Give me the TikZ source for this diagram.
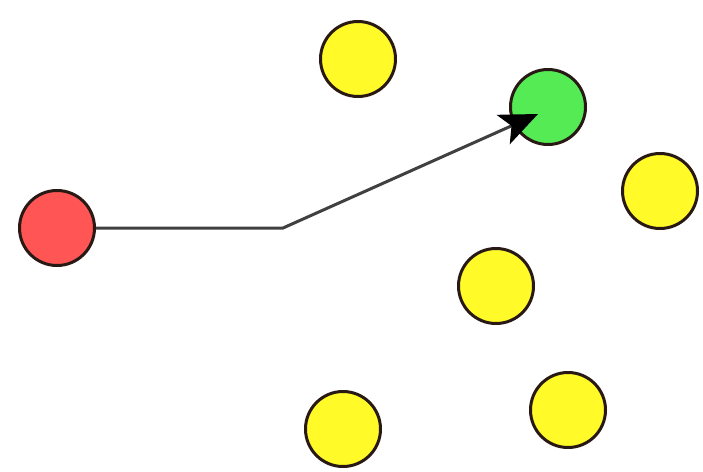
\documentclass[tikz,border=0pt]{standalone}
\usetikzlibrary{arrows.meta, calc}
\definecolor{startred}{RGB}{255,85,85}
\definecolor{goalgreen}{RGB}{85,235,85}
\definecolor{dotyellow}{RGB}{255,250,40}
\definecolor{rimdark}{RGB}{40,25,20}

\begin{document}
\begin{tikzpicture}[
    x=1pt, y=-1pt,
    dot/.style={circle, draw=rimdark, line width=3pt, fill=#1, minimum size=75pt, inner sep=0pt},
    dot/.default=dotyellow,
    arrow/.style={-{Stealth[length=38pt, width=32pt, inset=9pt, color=black]}, line width=3pt, draw=black!75}
]

% Frame
\useasboundingbox (0,0) rectangle (703,471);

% Start and goal
\node[dot=startred] (start) at (57,228) {};
\node[dot=goalgreen] (goal) at (548,107) {};

% Other points
\node[dot] (p1) at (358,59) {};
\node[dot] (p2) at (660,191) {};
\node[dot] (p3) at (496,286) {};
\node[dot] (p4) at (343,429) {};
\node[dot] (p5) at (568,410) {};

% Path
\coordinate (bend) at (283,228);
\coordinate (tip) at (538,114);
\draw[arrow] (start) -- (bend) -- (tip);

\end{tikzpicture}
\end{document}
